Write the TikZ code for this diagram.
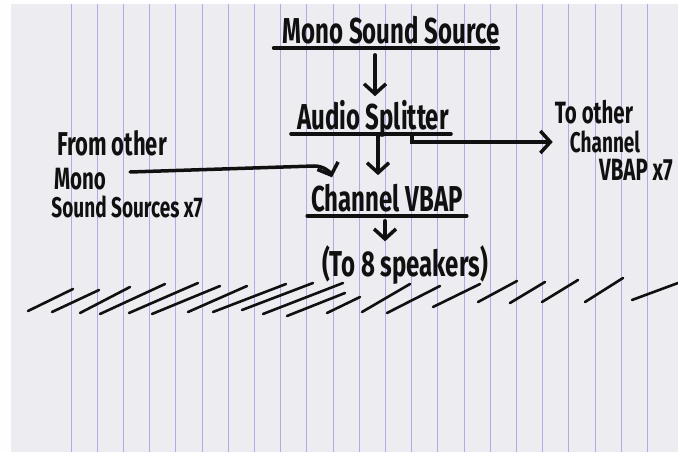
\documentclass[tikz,border=0pt]{standalone}
\usepackage{fontspec}
\setmainfont{Fira Sans}
\usetikzlibrary{arrows.meta}
\definecolor{paper}{RGB}{237,236,241}
\definecolor{rule}{RGB}{172,172,230}
\definecolor{ink}{RGB}{16,16,16}
\newcommand{\tall}[1]{\scalebox{1}[1.5]{#1}}
\tikzstyle{title}=[
        font = \bfseries\fontsize{24}{24}\selectfont,
        text = ink,
        text depth = 0pt,
        inner sep = 4pt
    ]
\tikzstyle{note}=[
    font = \bfseries\fontsize{19}{19}\selectfont,
    text = ink,
    inner sep = 0pt
]
\tikzstyle{bignote}=[
    note,
    font = \bfseries\fontsize{20.5}{20.5}\selectfont
]
\tikzstyle{pen}=[
    draw = ink,
    line width = 3.5pt,
    line cap = round
]
\tikzstyle{arr}=[
    pen,
    -{Straight Barb[length=10pt,width=22pt]}
]

\begin{document}
\begin{tikzpicture}[x=1pt, y=-1pt]
    \useasboundingbox (0,0) rectangle (678,452);
    \fill[white!96!paper] (0,0) rectangle (678,452);
    \fill[paper] (11,4) rectangle (678,452);
    \foreach \i in {0,...,22}
        \draw[rule, line width=0.8pt] (71+26.2*\i,4) -- (71+26.2*\i,452);

    \node[title] (1) at (391,30) {\tall{Mono Sound Source}};
    \node[title] (2) at (373,115) {\tall{Audio Splitter}};
    \node[title] (3) at (387,198) {\tall{Channel VBAP}};
    \node[title] (4) at (405,261) {\tall{(To 8 speakers)}};

    \node[bignote, font=\bfseries\fontsize{22}{22}\selectfont] (l1) at (112,143) {\tall{From other}};
    \node[bignote] (l2) at (80,179) {\tall{Mono}};
    \node[note] (l3) at (127,207) {\tall{Sound Sources x7}};
    \node[bignote] (r1) at (594,112) {\tall{To other}};
    \node[note] (r2) at (605,142) {\tall{Channel}};
    \node[bignote] (r3) at (636,170) {\tall{VBAP x7}};

    \draw[pen] ([xshift=-5pt]1.south west) -- ([xshift=-5pt]1.south east);
    \draw[pen] ([xshift=-2pt]2.south west) -- ([xshift=-2pt]2.south east);
    \draw[pen] (3.south west) -- (3.south east);

    \draw[arr] ([xshift=-16pt, yshift=-7pt]1.south) -- ([xshift=-16pt]1.south |- 2.north);
    \draw[arr, shorten >=5pt] ([xshift=5pt]2.south) -- ([xshift=5pt]2.south |- 3.north);
    \draw[arr, shorten >=17pt] ([xshift=39pt]2.south) |- (r2.west);
    \coordinate (bend) at (314,166);
    \draw[arr, shorten >=3pt] ([xshift=24pt, yshift=7pt]l2.east) -- (bend) to[out=0, in=110] ([xshift=-54pt]3.north);
    \draw[arr] ([xshift=-2pt, yshift=-5pt]3.south) -- ([xshift=-2pt]3.south |- 4.north);

    \foreach \a/\b/\c/\d in {28/311/73/289, 52/312/99/290, 80/313/130/287,
        100/314/165/284, 129/313/198/283, 152/314/220/286, 188/312/247/286,
        213/312/286/284, 242/310/313/283, 263/314/343/283, 287/316/345/293,
        327/313/360/297, 362/312/410/284, 387/313/440/286, 433/307/480/284,
        478/302/517/281, 510/303/545/282, 542/302/578/280, 585/302/623/278,
        632/300/678/283}
        \draw[pen, line width=2.6pt] (\a,\b) -- (\c,\d);
\end{tikzpicture}
\end{document}
